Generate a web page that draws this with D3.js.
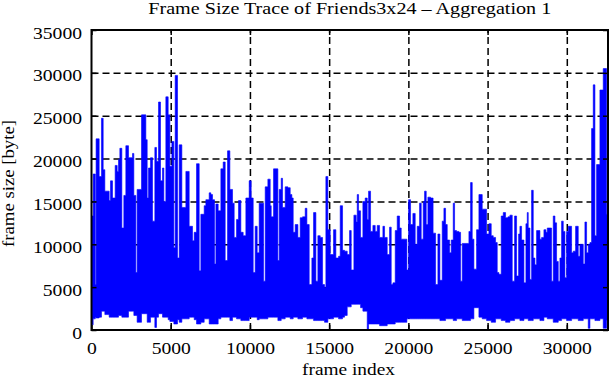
<!DOCTYPE html>
<html lang="en">
<head>
<meta charset="UTF-8">
<title>Frame Size Trace of Friends3x24</title>
<script src="https://d3js.org/d3.v7.min.js"></script>
<style>
  body { margin: 0; background: #fff; }
  svg { display: block; }
  text { font-family: "Liberation Serif", "Times New Roman", serif; fill: #000; }
</style>
</head>
<body>
<div id="chart"></div>
<script>
// trace: start frame, max and min frame size in that step
const frameStart = [
  0, 105, 240, 290, 484, 631, 737, 842, 1115, 1199, 1326, 1494, 1620, 1705, 1789, 1915, 2041, 2167, 2336, 2588,
  2672, 2799, 2880, 3157, 3430, 3515, 3598, 3725, 3851, 3998, 4103, 4230, 4356, 4482, 4566, 4693, 4840, 4945, 5072, 5198,
  5282, 5430, 5535, 5703, 5956, 6166, 6376, 6482, 6629, 6797, 6902, 7113, 7218, 7428, 7534, 7639, 7765, 7849, 7996, 8165,
  8312, 8438, 8586, 8733, 8901, 9006, 9154, 9280, 9427, 9574, 9743, 9953, 10079, 10206, 10332, 10458, 10584, 10859, 10964, 11132,
  11279, 11343, 11490, 11763, 11847, 11974, 12058, 12226, 12395, 12542, 12647, 12731, 12857, 13026, 13173, 13320, 13489, 13594, 13741, 13909,
  14015, 14162, 14288, 14435, 14583, 14709, 14793, 14919, 15067, 15277, 15424, 15593, 15698, 15845, 15971, 16140, 16288, 16393, 16561, 16708,
  16772, 16856, 16982, 17129, 17276, 17403, 17487, 17613, 17760, 17908, 18034, 18181, 18392, 18497, 18665, 18812, 18918, 19023, 19170, 19296,
  19444, 19549, 19906, 20012, 20138, 20285, 20432, 20559, 20706, 20811, 20937, 21022, 21127, 21232, 21400, 21560, 21717, 21864, 21990, 22137,
  22243, 22348, 22453, 22600, 22705, 22832, 22916, 23042, 23189, 23295, 23400, 23821, 23926, 24031, 24136, 24305, 24452, 24662, 24936, 25083,
  25230, 25357, 25504, 25609, 25714, 25861, 25988, 26135, 26282, 26409, 26556, 26703, 26829, 26956, 27040, 27146, 27293, 27419, 27503, 27566,
  27672, 27777, 27882, 27987, 28092, 28303, 28408, 28555, 28682, 28766, 29039, 29144, 29250, 29355, 29460, 29565, 29670, 29776, 29881, 29986,
  30091, 30302, 30407, 30554, 30722, 30828, 31038, 31143, 31248, 31354, 31459, 31564, 31669, 31774, 31880, 32090, 32300, 32511
];
const sizeMax = [
  13300, 18200, 5300, 22300, 17900, 24700, 18700, 16200, 15100, 17400, 15400, 19200, 18500, 19900, 21200, 11900, 15700, 21500, 20100, 20600,
  15700, 6700, 16400, 25100, 22200, 15400, 18900, 20100, 12700, 21300, 19700, 26600, 17400, 18900, 15000, 27200, 25100, 19100, 22000, 9600,
  29700, 8400, 21600, 14300, 18500, 12100, 10400, 11400, 19400, 6900, 13500, 14500, 15200, 16000, 15800, 15200, 7700, 14700, 13900, 18800,
  19600, 8100, 20900, 16400, 14800, 10800, 12900, 15100, 11400, 11000, 15400, 17400, 15400, 6700, 12100, 9000, 14800, 5700, 16700, 17600,
  14500, 13200, 18800, 8100, 16400, 17700, 14300, 16700, 16600, 15800, 15400, 11400, 12300, 10800, 13100, 13200, 14200, 12300, 5300, 8400,
  13700, 5700, 11000, 10800, 5300, 5000, 17900, 11700, 8800, 11700, 8400, 8600, 14500, 9300, 9200, 8800, 11600, 7000, 13400, 12600,
  15800, 13900, 10800, 15000, 15400, 12900, 16200, 11500, 12200, 11500, 12200, 10800, 12100, 10800, 8800, 12000, 5300, 5500, 11600, 13300,
  11900, 10600, 7000, 15200, 12300, 13600, 10000, 12100, 14800, 10600, 15000, 16200, 12300, 15500, 15400, 11300, 5300, 11200, 5800, 12700,
  14200, 12300, 10500, 9000, 10500, 14800, 11600, 11500, 11400, 5700, 10100, 11500, 17200, 10600, 7100, 11700, 15800, 14100, 11200, 12400,
  11000, 10800, 10200, 6700, 6500, 13300, 13700, 13100, 13200, 13400, 5700, 13300, 6300, 11200, 12100, 10500, 5500, 12400, 13700, 11900,
  5900, 16300, 8400, 7600, 11600, 10600, 10800, 11700, 11400, 11900, 5700, 13300, 12500, 8000, 5700, 8400, 12700, 11500, 6100, 11500,
  12100, 9000, 9200, 12100, 8600, 10000, 7700, 12600, 9000, 10000, 10200, 23500, 28600, 11000, 19300, 28000, 30500, 13500
];
const sizeMin = [
  600, 1300, 1500, 1400, 1500, 2200, 2200, 1800, 1500, 1500, 1500, 1500, 1500, 1700, 1700, 1500, 1500, 1500, 2200, 2200,
  1700, 1700, 900, 1900, 1900, 900, 900, 1500, 1500, 300, 1500, 1900, 1900, 1500, 1500, 1500, 1200, 1000, 1000, 700,
  700, 1200, 900, 1300, 1300, 1500, 1500, 1200, 700, 700, 900, 1300, 1300, 700, 700, 700, 700, 700, 1300, 1500,
  1500, 1500, 1500, 1100, 1500, 1500, 1300, 1300, 1100, 1100, 1100, 1500, 1500, 1500, 1500, 1200, 1300, 1300, 1300, 1500,
  1500, 1500, 1500, 1100, 1100, 1300, 1300, 1500, 1500, 1300, 1300, 1500, 1500, 1300, 1300, 1500, 1500, 1300, 1300, 1300,
  1100, 1100, 1100, 1100, 1100, 900, 900, 1300, 1300, 1500, 1500, 1300, 1300, 1500, 1700, 2700, 2700, 3000, 3000, 3000,
  3000, 3000, 2600, 2200, 2200, 100, 700, 700, 700, 700, 700, 500, 500, 500, 700, 700, 700, 700, 900, 900,
  900, 900, 1300, 1300, 1300, 1300, 1300, 1300, 1300, 1300, 1300, 1300, 1300, 1300, 1300, 1300, 1300, 1300, 1100, 1100,
  1100, 1300, 1300, 1300, 1300, 1100, 1100, 1300, 1300, 1300, 1100, 1100, 1300, 1300, 2600, 2600, 1500, 1300, 1100, 1100,
  900, 900, 1300, 1300, 1300, 1100, 1100, 900, 900, 1100, 1100, 1300, 1300, 1300, 1100, 1100, 1300, 1300, 1300, 1100,
  1100, 1100, 1300, 1300, 1300, 1100, 1100, 1500, 1500, 1300, 1300, 900, 900, 900, 1100, 1100, 1300, 1300, 1300, 1100,
  1100, 1300, 1300, 1300, 1100, 1100, 1300, 1300, 1300, 200, 1300, 1300, 1300, 1100, 1100, 1300, 200, 1100
];
const lastFrame = 32600;
const xTicks = [0, 5000, 10000, 15000, 20000, 25000, 30000];
const yTicks = [0, 5000, 10000, 15000, 20000, 25000, 30000, 35000];

const W = 611, H = 380;
const plot = { left: 91.5, right: 608, top: 30, bottom: 330 };

const svg = d3.select('#chart').append('svg')
    .attr('width', W)
    .attr('height', H);

const x = d3.scaleLinear().domain([0, lastFrame]).range([plot.left, plot.right]);
const y = d3.scaleLinear().domain([0, 35000]).range([plot.bottom, plot.top]);
const fmt = d3.format('d');
const digitW = 9.8;

// dashed grid, behind the trace
const gx = svg.append('g')
    .attr('transform', `translate(0,${plot.bottom})`)
    .call(d3.axisBottom(x).tickValues(xTicks.slice(1)).tickSize(-(plot.bottom - plot.top)).tickFormat(''));
const gy = svg.append('g')
    .attr('transform', `translate(${plot.left},0)`)
    .call(d3.axisLeft(y).tickValues(yTicks.slice(1, -1)).tickSize(-(plot.right - plot.left)).tickFormat(''));
[gx, gy].forEach(g => {
    g.select('.domain').remove();
    g.selectAll('line').attr('stroke', '#000').attr('stroke-width', 1).attr('stroke-dasharray', '7,4');
});

// the trace
const pts = frameStart.map((f, i) => ({ f: f, hi: sizeMax[i], lo: sizeMin[i] }));
pts.push({ f: lastFrame, hi: sizeMax[sizeMax.length - 1], lo: sizeMin[sizeMin.length - 1] });

const area = d3.area()
    .curve(d3.curveStepAfter)
    .x(d => x(d.f))
    .y0(d => y(d.lo))
    .y1(d => y(d.hi));

svg.append('path')
    .datum(pts)
    .attr('d', area)
    .attr('fill', '#0000ff')
    .attr('stroke', '#0000ff')
    .attr('stroke-width', 0.6);

// axes with inward ticks, mirrored on top and right
const bottomAxis = svg.append('g')
    .attr('transform', `translate(0,${plot.bottom})`)
    .call(d3.axisBottom(x).tickValues(xTicks).tickSizeInner(-5).tickSizeOuter(0).tickFormat(fmt));
bottomAxis.selectAll('text')
    .attr('y', 24).attr('dy', 0)
    .attr('textLength', d => digitW * fmt(d).length)
    .attr('lengthAdjust', 'spacingAndGlyphs');

const leftAxis = svg.append('g')
    .attr('transform', `translate(${plot.left},0)`)
    .call(d3.axisLeft(y).tickValues(yTicks).tickSizeInner(-5).tickSizeOuter(0).tickFormat(fmt));
leftAxis.selectAll('text')
    .attr('x', -9.5).attr('dy', 8)
    .attr('textLength', d => digitW * fmt(d).length)
    .attr('lengthAdjust', 'spacingAndGlyphs');

svg.append('g')
    .attr('transform', `translate(0,${plot.top})`)
    .call(d3.axisTop(x).tickValues(xTicks).tickSizeInner(-5).tickSizeOuter(0).tickFormat(''));
svg.append('g')
    .attr('transform', `translate(${plot.right},0)`)
    .call(d3.axisRight(y).tickValues(yTicks).tickSizeInner(-5).tickSizeOuter(0).tickFormat(''));

svg.selectAll('.domain').remove();
svg.selectAll('.tick text').attr('font-family', null).style('font-size', '17px');
svg.selectAll('.tick line').attr('stroke-width', 1.5);

// frame
svg.append('rect')
    .attr('x', plot.left).attr('y', plot.top)
    .attr('width', plot.right - plot.left).attr('height', plot.bottom - plot.top)
    .attr('fill', 'none').attr('stroke', '#000').attr('stroke-width', 2);

// title and axis labels
svg.append('text')
    .attr('x', (plot.left + plot.right) / 2).attr('y', 14)
    .attr('text-anchor', 'middle')
    .attr('textLength', 403).attr('lengthAdjust', 'spacingAndGlyphs')
    .style('font-size', '17px')
    .text('Frame Size Trace of Friends3x24 \u2013 Aggregation 1');

svg.append('text')
    .attr('x', 348.5).attr('y', 375)
    .attr('text-anchor', 'middle')
    .attr('textLength', 93).attr('lengthAdjust', 'spacingAndGlyphs')
    .style('font-size', '16px')
    .text('frame index');

svg.append('text')
    .attr('transform', 'translate(14,183.5) rotate(-90)')
    .attr('text-anchor', 'middle')
    .attr('textLength', 127).attr('lengthAdjust', 'spacingAndGlyphs')
    .style('font-size', '17px')
    .text('frame size [byte]');
</script>
</body>
</html>
